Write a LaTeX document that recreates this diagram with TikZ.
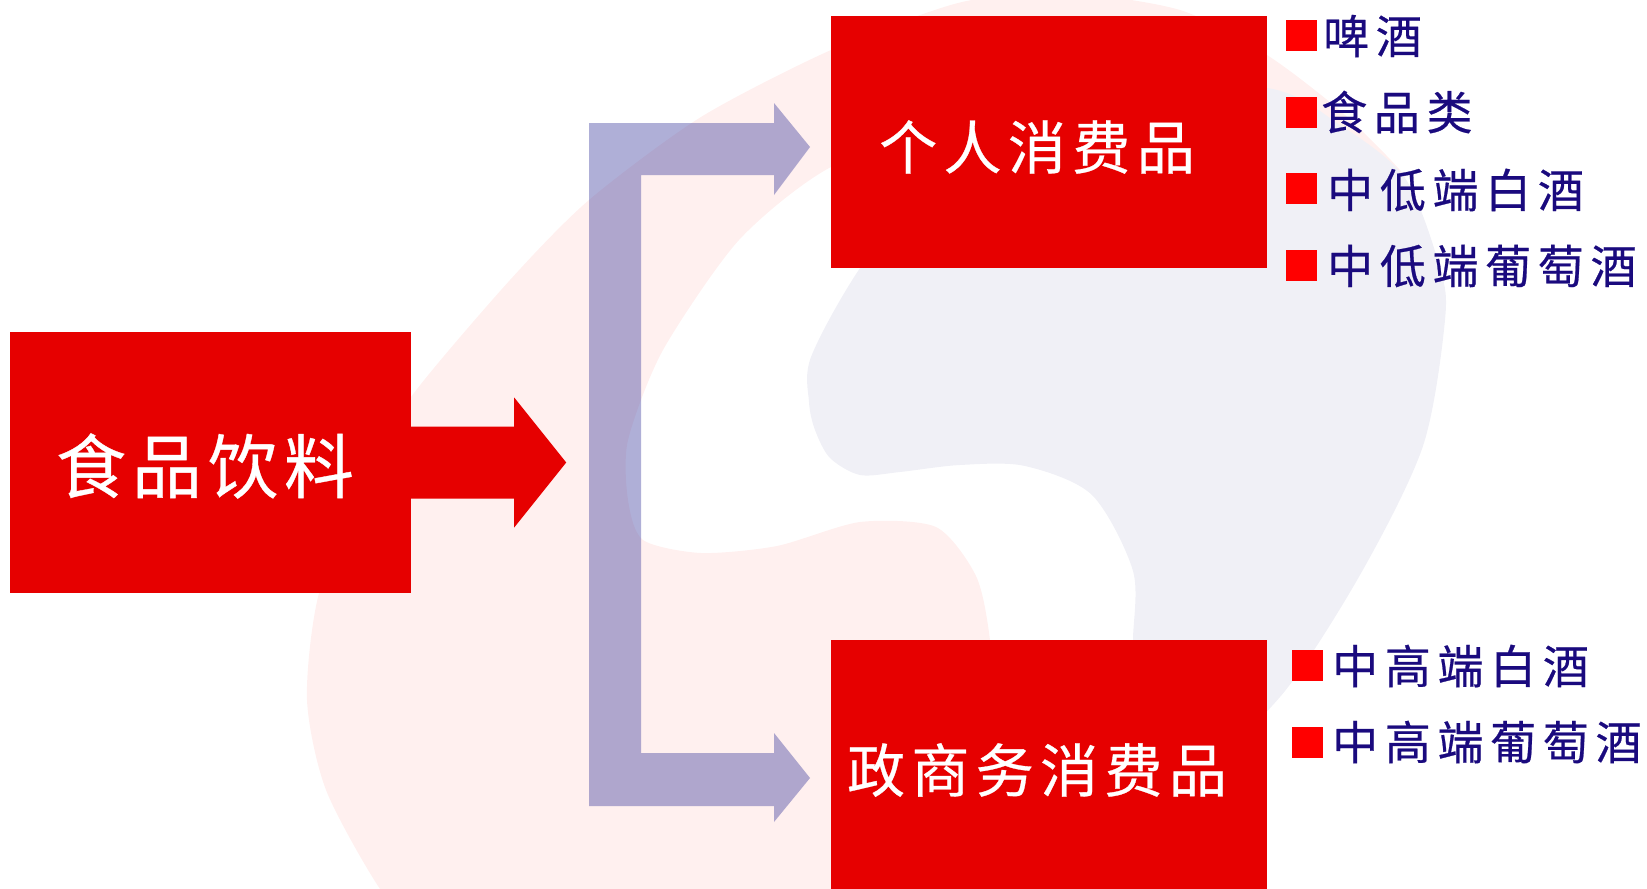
\documentclass[tikz,border=0pt]{standalone}
\usepackage{fontspec}
\newfontfamily\cjk{Noto Sans CJK SC}
\definecolor{boxred}{HTML}{E60000}
\definecolor{bulletred}{HTML}{FF0000}
\definecolor{itemblue}{HTML}{1A0A7E}
\definecolor{forkblue}{RGB}{55,55,155}
\definecolor{logored}{HTML}{FFF0EF}
\definecolor{logogrey}{HTML}{F0F0F6}
\tikzset{
	redbox/.style={fill=boxred,inner sep=0pt},
	boxtext/.style={text=white,inner sep=0pt},
	bulletbox/.style={fill=bulletred,inner sep=0pt,minimum size=31pt},
	itemtext/.style={anchor=west,text=itemblue,inner sep=0pt,font=\fontsize{46}{46}\selectfont\cjk\addfontfeature{LetterSpace=14.5,FakeBold=0.5}},
}
\begin{document}
\begin{tikzpicture}[x=1pt,y=-1pt]
	\useasboundingbox (0,0) rectangle (1647,889);
	\clip (0,0) rectangle (1647,889);
	% faint logo behind
	\fill[logored] plot[smooth cycle,tension=0.45] coordinates {(307,700) (318,597) (360,480) (414,393) (510,280) (589,200) (701,117) (831,50) (958,3) (1060,-8) (1180,10) (1267,55) (1345,115) (1405,178) (1300,110) (1100,100) (960,125) (831,167) (739,240) (663,350) (628,440) (628,500) (643,540) (701,553) (777,546) (860,522) (936,527) (976,576) (990,640) (1000,760) (1000,960) (440,960) (380,889) (326,790)};
	\fill[logogrey] plot[smooth cycle,tension=0.5] coordinates {(1267,88) (1340,125) (1405,178) (1440,268) (1445,320) (1423,446) (1360,575) (1280,697) (1200,760) (1133,700) (1133,640) (1133,571) (1092,495) (1025,466) (960,465) (900,472) (860,475) (830,458) (815,430) (809,402) (811,357) (860,268) (950,150) (1100,90)};
	% boxes
	\node[redbox,minimum width=401pt,minimum height=261pt] (food) at (210.5,462.5) {};
	\node[redbox,minimum width=436pt,minimum height=252pt] (personal) at (1049,142) {};
	\node[redbox,minimum width=436pt,minimum height=249pt] (business) at (1049,764.5) {};
	% box labels
	\node[boxtext,font=\fontsize{70}{70}\selectfont\cjk\addfontfeature{LetterSpace=8.5,FakeBold=0.5}] (foodlabel) at (205,466) {食品饮料};
	\node[boxtext,font=\fontsize{58}{58}\selectfont\cjk\addfontfeature{LetterSpace=11,FakeBold=0.5}] (personallabel) at (1037,147) {个人消费品};
	\node[boxtext,font=\fontsize{58}{58}\selectfont\cjk\addfontfeature{LetterSpace=11,FakeBold=0.5}] (businesslabel) at (1037,770) {政商务消费品};
	% arrows
	\fill[boxred] (food.east) ++(0,-36) -- ++(103,0) -- ++(0,-29) -- ++(52,65) -- ++(-52,65) -- ++(0,-29) -- ++(-103,0) -- cycle;
	\coordinate (uptip) at (810,147);
	\coordinate (downtip) at (810,778);
	\fill[forkblue,fill opacity=0.4] (uptip) -- (774,103) -- (774,123) -- (589,123) -- (589,806) -- (774,806) -- (774,822) -- (downtip) -- (774,733) -- (774,753) -- (641,753) -- (641,175) -- (774,175) -- (774,195) -- cycle;
	% upper list
	\node[bulletbox] (beerdot) at (1301.5,35.5) {};
	\node[itemtext] (beer) at (1323,36) {啤酒};
	\node[bulletbox] (snackdot) at (1301.5,112.5) {};
	\node[itemtext] (snack) at (1321,112) {食品类};
	\node[bulletbox] (lowbaijiudot) at (1301.5,188.5) {};
	\node[itemtext] (lowbaijiu) at (1327,190) {中低端白酒};
	\node[bulletbox] (lowwinedot) at (1301.5,265.5) {};
	\node[itemtext] (lowwine) at (1327,266) {中低端葡萄酒};
	% lower list
	\node[bulletbox] (highbaijiudot) at (1307.5,665.5) {};
	\node[itemtext] (highbaijiu) at (1332,666) {中高端白酒};
	\node[bulletbox] (highwinedot) at (1307.5,742.5) {};
	\node[itemtext] (highwine) at (1332,742) {中高端葡萄酒};
\end{tikzpicture}
\end{document}
